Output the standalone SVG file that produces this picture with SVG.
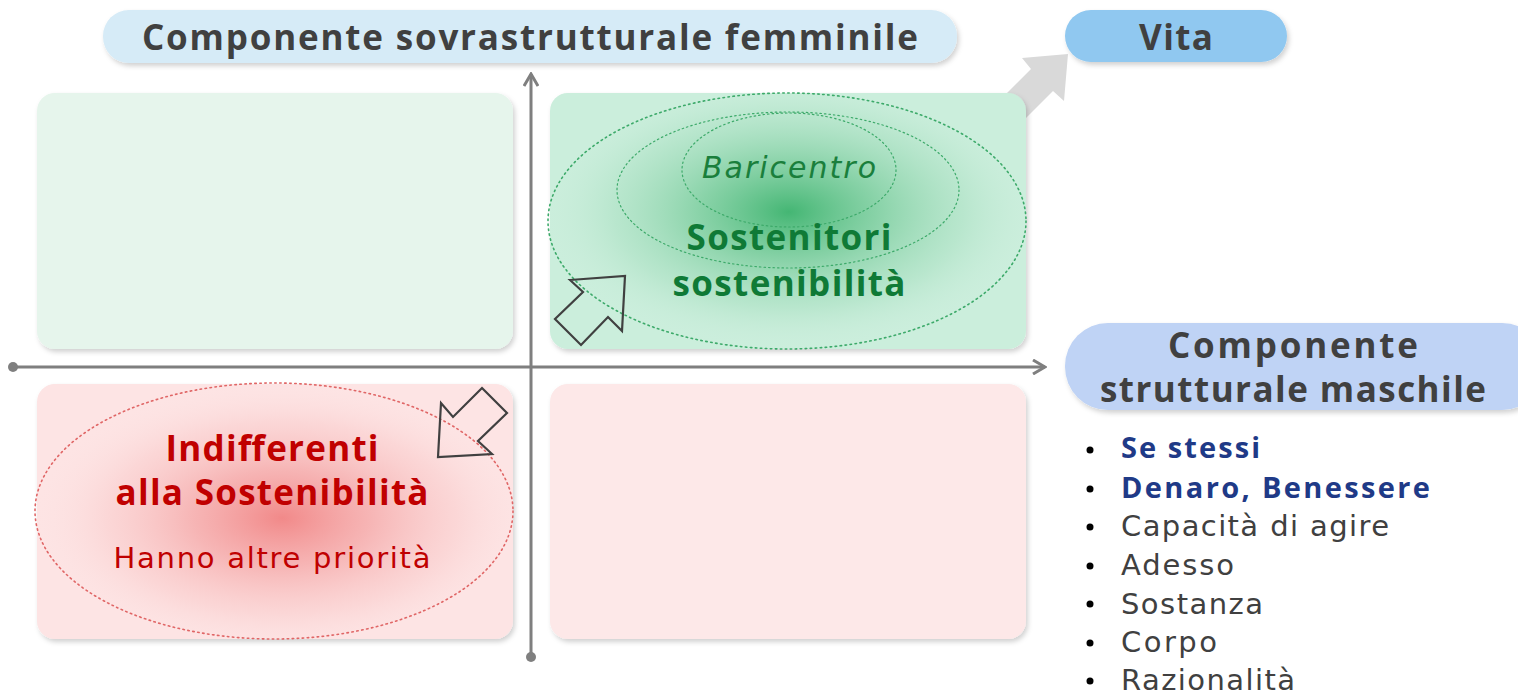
<svg xmlns="http://www.w3.org/2000/svg" width="1518" height="691" viewBox="0 0 1518 691">
<style>
.t{font-family:"Open Sans","Liberation Sans",sans-serif}
.r{font-family:"DejaVu Sans","Open Sans",sans-serif}
.hd{font-weight:700;fill:#404040;font-size:35px;text-anchor:middle}
.ax{stroke:#7F7F7F;stroke-width:3;fill:none}
.q{filter:url(#sh)}
.li{font-size:29px;fill:#404040}
.lb{font-size:29px;fill:#1F3A87;font-weight:700}
.hol{fill:none;stroke:#404040;stroke-width:2.2;stroke-linejoin:miter}
</style>
<defs>
<filter id="sh" x="-10%" y="-10%" width="120%" height="130%">
<feDropShadow dx="2" dy="3" stdDeviation="2.5" flood-color="#000" flood-opacity="0.18"/>
</filter>
<radialGradient id="gg" cx="789" cy="212" r="250" gradientUnits="userSpaceOnUse" gradientTransform="translate(789 212) scale(1 0.55) translate(-789 -212)">
<stop offset="0" stop-color="#3DB36E" stop-opacity="0.95"/>
<stop offset="0.35" stop-color="#5CC085" stop-opacity="0.6"/>
<stop offset="0.7" stop-color="#8ED5AC" stop-opacity="0.3"/>
<stop offset="1" stop-color="#CBEEDC" stop-opacity="0"/>
</radialGradient>
<radialGradient id="rg" cx="282" cy="518" r="250" gradientUnits="userSpaceOnUse" gradientTransform="translate(282 518) scale(1 0.55) translate(-282 -518)">
<stop offset="0" stop-color="#F07F7F" stop-opacity="0.9"/>
<stop offset="0.35" stop-color="#F29595" stop-opacity="0.6"/>
<stop offset="0.7" stop-color="#F7B8B8" stop-opacity="0.3"/>
<stop offset="1" stop-color="#FDE4E4" stop-opacity="0"/>
</radialGradient>
<marker id="ah" viewBox="0 0 16 16" refX="14" refY="8" markerWidth="16" markerHeight="16" orient="auto" markerUnits="userSpaceOnUse">
<path d="M2,1 L14,8 L2,15" fill="none" stroke="#7F7F7F" stroke-width="3" stroke-linejoin="miter"/>
</marker>
</defs>
<rect width="1518" height="691" fill="#fff"/>

<g id="vita-arrow">
<polygon points="1022,58 1068,54 1064,101 1053,91 1015,129 993,107 1031,69" fill="#D9D9D9"/>
</g>

<g id="q-tl"><rect class="q" x="37" y="93" width="476" height="256" rx="18" fill="#E6F5EC"/></g>
<g id="q-tr"><rect class="q" x="550" y="93" width="476" height="256" rx="18" fill="#CBEEDC"/>
<ellipse cx="787" cy="221" rx="239" ry="128" fill="url(#gg)"/>
<ellipse cx="787" cy="221" rx="239" ry="128" fill="none" stroke="#3DAA6A" stroke-width="1.6" stroke-dasharray="1.5 3.5" stroke-linecap="round"/>
<ellipse cx="788" cy="190" rx="171" ry="78" fill="none" stroke="#3DAA6A" stroke-width="1.2" stroke-dasharray="1.5 3" stroke-linecap="round"/>
<ellipse cx="789" cy="170" rx="107" ry="57" fill="none" stroke="#3DAA6A" stroke-width="1.2" stroke-dasharray="1.5 3" stroke-linecap="round"/>
<text class="r" x="789" y="178" text-anchor="middle" font-size="30" font-style="italic" fill="#1A7F3C" textLength="174" lengthAdjust="spacing">Baricentro</text>
<text class="t" x="789" y="250" text-anchor="middle" font-size="35" font-weight="700" fill="#0F7A36" textLength="205" lengthAdjust="spacing">Sostenitori</text>
<text class="t" x="789" y="296" text-anchor="middle" font-size="35" font-weight="700" fill="#0F7A36" textLength="233" lengthAdjust="spacing">sostenibilità</text>
<polygon class="hol" points="570,280 625,276 622,331 608,317 581,345 555,319 583,292"/>
</g>
<g id="q-bl"><rect class="q" x="37" y="384" width="476" height="255" rx="18" fill="#FDE4E4"/>
<ellipse cx="274" cy="511" rx="239" ry="128" fill="url(#rg)"/>
<ellipse cx="274" cy="511" rx="239" ry="128" fill="none" stroke="#E06666" stroke-width="1.6" stroke-dasharray="1.5 3.5" stroke-linecap="round"/>
<text class="t" x="272" y="461" text-anchor="middle" font-size="35" font-weight="700" fill="#C00000" textLength="213" lengthAdjust="spacing">Indifferenti</text>
<text class="t" x="272" y="505" text-anchor="middle" font-size="35" font-weight="700" fill="#C00000" textLength="313" lengthAdjust="spacing">alla Sostenibilità</text>
<text class="r" x="272" y="568" text-anchor="middle" font-size="29" fill="#C00000" textLength="317" lengthAdjust="spacing">Hanno altre priorità</text>
<polygon class="hol" points="482,388 507,413 478,441 492,454 438,457 441,403 453,417"/>
</g>
<g id="q-br"><rect class="q" x="550" y="384" width="476" height="255" rx="18" fill="#FDE8E8"/></g>

<g id="connectors">
<line class="ax" x1="13" y1="367" x2="1045" y2="367" marker-end="url(#ah)"/>
<circle cx="13" cy="367" r="5" fill="#7F7F7F"/>
<line class="ax" x1="531" y1="657" x2="531" y2="74" marker-end="url(#ah)"/>
<circle cx="531" cy="657" r="5" fill="#7F7F7F"/>
</g>

<g id="title-top"><rect class="q" x="103" y="10" width="854" height="53" rx="26" fill="#D6EBF7"/>
<text class="t hd" x="530" y="50" textLength="776" lengthAdjust="spacing">Componente sovrastrutturale femminile</text></g>
<g id="vita"><rect class="q" x="1065" y="10" width="222" height="52" rx="26" fill="#90C8F0"/>
<text class="t hd" x="1176" y="50" textLength="74" lengthAdjust="spacing">Vita</text></g>
<g id="title-right"><rect class="q" x="1065" y="323" width="480" height="87" rx="43" fill="#BFD3F5"/>
<text class="t hd" x="1293" y="358" textLength="250" lengthAdjust="spacing">Componente</text>
<text class="t hd" x="1293" y="402" textLength="386" lengthAdjust="spacing">strutturale maschile</text></g>

<g id="list">
<g fill="#000"><circle cx="1090" cy="450" r="3.5"/><circle cx="1090" cy="489" r="3.5"/><circle cx="1090" cy="527" r="3.5"/><circle cx="1090" cy="566" r="3.5"/><circle cx="1090" cy="604" r="3.5"/><circle cx="1090" cy="643" r="3.5"/><circle cx="1090" cy="681" r="3.5"/></g>
<text class="t lb" x="1121" y="458" textLength="139" lengthAdjust="spacing">Se stessi</text>
<text class="t lb" x="1121" y="498" textLength="309" lengthAdjust="spacing">Denaro, Benessere</text>
<text class="r li" x="1121" y="536" textLength="268" lengthAdjust="spacing">Capacità di agire</text>
<text class="r li" x="1121" y="575" textLength="113" lengthAdjust="spacing">Adesso</text>
<text class="r li" x="1121" y="614" textLength="142" lengthAdjust="spacing">Sostanza</text>
<text class="r li" x="1121" y="652" textLength="96" lengthAdjust="spacing">Corpo</text>
<text class="r li" x="1121" y="690" textLength="174" lengthAdjust="spacing">Razionalità</text>
</g>
</svg>
